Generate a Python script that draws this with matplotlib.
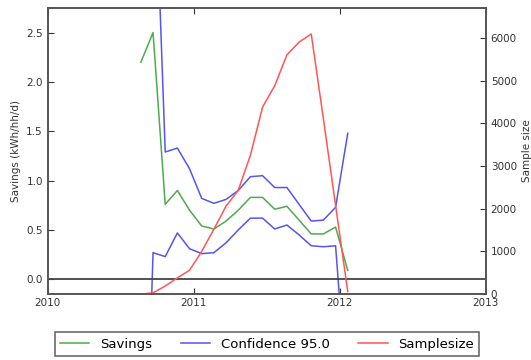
import matplotlib
matplotlib.use("Agg")
import matplotlib.pyplot as plt

months = ["2010-08", "2010-09", "2010-10", "2010-11", "2010-12",
          "2011-01", "2011-02", "2011-03", "2011-04", "2011-05", "2011-06",
          "2011-07", "2011-08", "2011-09", "2011-10", "2011-11", "2011-12",
          "2012-01"]
savings = [2.20, 2.50, 0.76, 0.90, 0.70, 0.54, 0.51, 0.59, 0.70, 0.83, 0.83,
           0.71, 0.74, 0.60, 0.46, 0.46, 0.53, 0.09]
conf_low = [-3.6, 0.27, 0.23, 0.47, 0.31, 0.26, 0.27, 0.37, 0.50, 0.62, 0.62,
            0.51, 0.55, 0.45, 0.34, 0.33, 0.34, -1.30]
conf_high = [8.0, 4.73, 1.29, 1.33, 1.12, 0.82, 0.77, 0.81, 0.90, 1.04, 1.05,
             0.93, 0.93, 0.76, 0.59, 0.60, 0.73, 1.48]
samplesize = [0, 30, 190, 380, 560, 1000, 1520, 2060, 2430, 3250, 4380,
              4880, 5600, 5900, 6090, 4100, 2080, 60]
year_ticks = [2010, 2011, 2012, 2013]
left_ticks = [0.0, 0.5, 1.0, 1.5, 2.0, 2.5]
right_ticks = [0, 1000, 2000, 3000, 4000, 5000, 6000]

# fractional-year positions (data points sit ~2/3 into each month)
x = [int(m[:4]) + (int(m[5:]) - 1 + 0.65) / 12.0 for m in months]

fig = plt.figure(figsize=(5.31, 3.60), dpi=100)
ax = fig.add_axes([0.090, 0.183, 0.825, 0.795])
ax2 = ax.twinx()

spine_col = "#555555"
lw = 1.1
l1, = ax.plot(x, savings, color="#4daa4d", lw=lw, label="Savings")
l2, = ax.plot(x, conf_low, color="#5555ee", lw=lw, label="Confidence 95.0")
ax.plot(x, conf_high, color="#5555ee", lw=lw)
ax.axhline(0, color="#444444", lw=1.3)
l3, = ax2.plot(x, samplesize, color="#ff5555", lw=lw, label="Samplesize")

ax.set_xlim(2010, 2013)
ax.set_ylim(-0.15, 2.75)
ax2.set_ylim(0, 6700)
ax.set_xticks(year_ticks)
ax.set_xticklabels([str(t) for t in year_ticks])
ax.set_yticks(left_ticks)
ax.set_yticklabels(["%.1f" % t for t in left_ticks])
ax2.set_yticks(right_ticks)
ax2.set_yticklabels([str(t) for t in right_ticks])

for a in (ax, ax2):
    for s in a.spines.values():
        s.set_color(spine_col)
        s.set_linewidth(1.2)
ax.tick_params(axis="both", direction="in", labelsize=7.5, colors="#333333",
               top=True, length=4)
ax.tick_params(axis="x", pad=3)
ax2.tick_params(axis="y", direction="in", labelsize=7.5, colors="#333333", length=4)

ax.set_ylabel("Savings (kWh/hh/d)", fontsize=7.5, color="#333333")
ax2.set_ylabel("Sample size", fontsize=7.5, color="#333333")

leg = fig.legend(handles=[l1, l2, l3], loc="lower center", ncol=3,
                 bbox_to_anchor=(0.503, 0.0), fontsize=9.5, frameon=True,
                 fancybox=False, columnspacing=2.2, handlelength=2.2,
                 borderaxespad=0.3)
leg.get_frame().set_edgecolor("#444444")
leg.get_frame().set_linewidth(1.2)

fig.savefig("out.png", dpi=100)
